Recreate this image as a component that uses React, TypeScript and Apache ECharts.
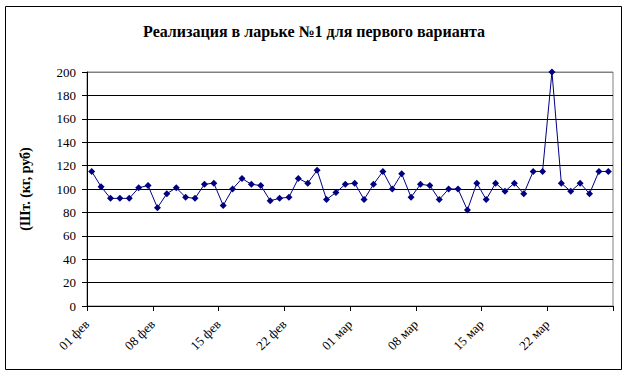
import React, { useEffect, useRef } from "react";
import * as echarts from "echarts";

const title = "Реализация в ларьке №1 для первого варианта";
const yAxisName = "(Шт. (кг, руб)";
const tickLabels = ["01 фев", "08 фев", "15 фев", "22 фев", "01 мар", "08 мар", "15 мар", "22 мар", ""];
const values = [
  115, 102, 92, 92, 92, 101, 103, 84, 96, 101, 93, 92, 104, 105, 86, 100, 109, 104, 103,
  90, 92, 93, 109, 105, 116, 91, 97, 104, 105, 91, 104, 115, 100, 113, 93, 104, 103,
  91, 100, 100, 82, 105, 91, 105, 98, 105, 96, 115, 115, 200, 105, 98, 105, 96, 115, 115,
];
const daysPerTick = 7;

export default function App() {
  const ref = useRef<HTMLDivElement>(null);
  useEffect(() => {
    document.body.style.margin = "0";
    const chart = echarts.init(ref.current!, undefined, { renderer: "svg" });
    const font = "'Liberation Serif', 'Times New Roman', serif";
    const splitColors = Array.from({ length: 11 }, (_, i) => (i === 10 ? "#808080" : "#000000"));
    chart.setOption({
      animation: false,
      backgroundColor: "#ffffff",
      textStyle: { fontFamily: font },
      title: {
        text: title,
        left: "center",
        top: 18,
        textStyle: { fontFamily: font, fontSize: 16, fontWeight: "bold", color: "#000" },
      },
      graphic: [
        {
          type: "rect",
          shape: { x: 5.5, y: 6.5, width: 616, height: 363 },
          style: { fill: "none", stroke: "#000", lineWidth: 1 },
          silent: true,
        },
      ],
      grid: {
        left: 87,
        top: 72,
        width: 526,
        height: 234,
        show: true,
        borderColor: "#808080",
        borderWidth: 1,
        backgroundColor: "transparent",
      },
      xAxis: {
        type: "value",
        min: 0,
        max: values.length,
        interval: daysPerTick,
        axisLine: { show: true, onZero: false, lineStyle: { color: "#000", width: 1 } },
        axisTick: { show: true, inside: false, length: 5, lineStyle: { color: "#000" } },
        splitLine: { show: false },
        axisLabel: {
          rotate: 45,
          margin: 16,
          fontFamily: font,
          fontSize: 13,
          color: "#000",
          showMaxLabel: true,
          formatter: (v: number) => tickLabels[Math.round(v / daysPerTick)] ?? "",
        },
      },
      yAxis: {
        type: "value",
        min: 0,
        max: 200,
        interval: 20,
        name: yAxisName,
        nameLocation: "middle",
        nameRotate: 90,
        nameGap: 55,
        nameTextStyle: { fontFamily: font, fontSize: 14, fontWeight: "bold", color: "#000" },
        axisLine: { show: true, lineStyle: { color: "#000", width: 1 } },
        axisTick: { show: true, inside: false, length: 5, lineStyle: { color: "#000" } },
        splitLine: { show: true, lineStyle: { color: splitColors, width: 1 } },
        axisLabel: { fontFamily: font, fontSize: 13, color: "#000", margin: 11 },
      },
      series: [
        {
          type: "line",
          data: values.map((v, i) => [i + 0.5, v]),
          symbol: "diamond",
          symbolSize: 7,
          lineStyle: { color: "#000080", width: 1 },
          itemStyle: { color: "#000080" },
          clip: false,
        },
      ],
    });
    return () => chart.dispose();
  }, []);
  return <div ref={ref} style={{ width: 628, height: 377 }} />;
}
